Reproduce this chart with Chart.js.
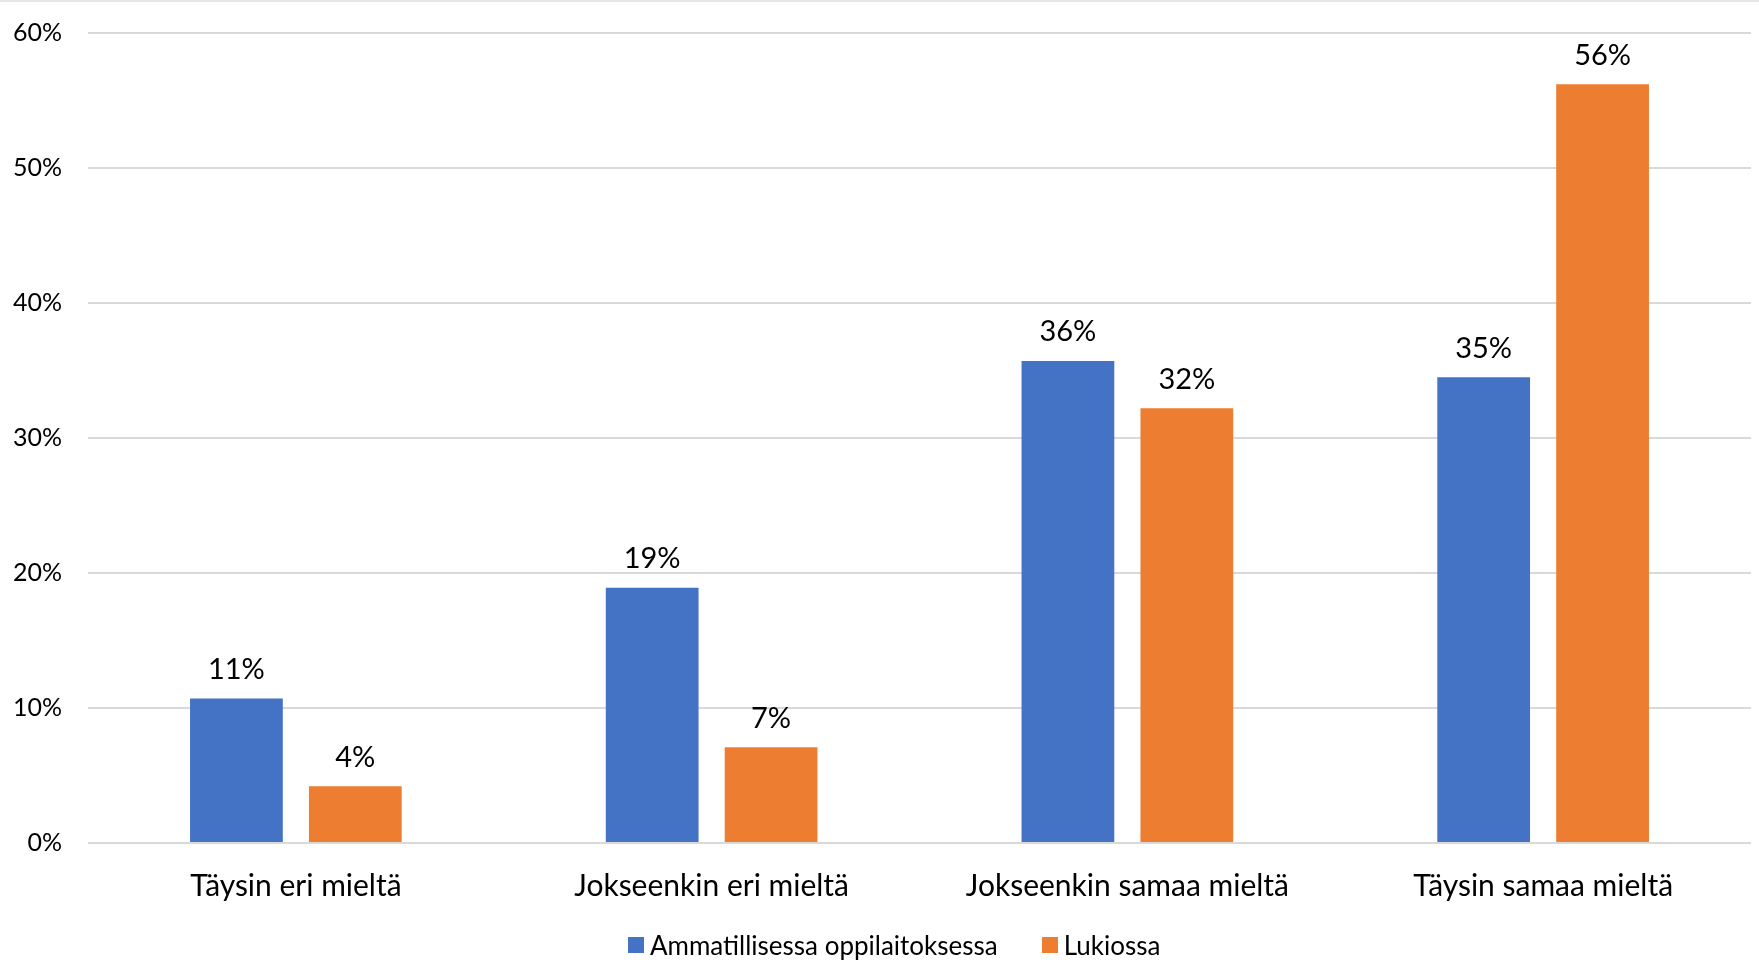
<!DOCTYPE html>
<html>
<head>
<meta charset="utf-8">
<script src="https://cdn.jsdelivr.net/npm/chart.js@4/dist/chart.umd.min.js"></script>
<style>
  body { margin: 0; background: #fff; }
  #wrap { position: relative; width: 1759px; height: 978px; font-family: Lato, "Open Sans", sans-serif; }
  #topline { position: absolute; left: 0; top: 0; width: 1759px; height: 2px; background: #e6e6e6; }
  #legend { position: absolute; left: 628px; top: 929px; display: flex; align-items: center; font-size: 26px; color: #000; line-height: 32px; }
  #legend span.item { display: flex; align-items: center; margin-right: 44px; }
  #legend span.box { width: 16px; height: 16px; margin-right: 6px; display: inline-block; }
</style>
</head>
<body>
<div id="wrap">
  <canvas id="myChart" width="1759" height="978"></canvas>
  <div id="topline"></div>
  <div id="legend"></div>
</div>
<script>
const categories = ['Täysin eri mieltä', 'Jokseenkin eri mieltä', 'Jokseenkin samaa mieltä', 'Täysin samaa mieltä'];
const ammatillinen = [10.7, 18.9, 35.7, 34.5];
const lukio = [4.2, 7.1, 32.2, 56.2];
const yTicks = [0, 10, 20, 30, 40, 50, 60];
const seriesNames = ['Ammatillisessa oppilaitoksessa', 'Lukiossa'];
const seriesColors = ['#4472C4', '#ED7D31'];

const FONT = 'Lato, "Open Sans", sans-serif';

// piirretään prosenttiluvut pylväiden päälle
const barLabels = {
    id: 'barLabels',
    afterDatasetsDraw(chart) {
        const ctx = chart.ctx;
        ctx.save();
        ctx.font = '29px ' + FONT;
        ctx.fillStyle = '#000';
        ctx.textAlign = 'center';
        ctx.textBaseline = 'middle';
        chart.data.datasets.forEach((ds, i) => {
            chart.getDatasetMeta(i).data.forEach((bar, j) => {
                ctx.fillText(Math.round(ds.data[j]) + '%', bar.x, bar.y - 29);
            });
        });
        ctx.restore();
    }
};

const chart = new Chart('myChart', {
    type: 'bar',
    data: {
        labels: categories,
        datasets: [
            { label: seriesNames[0], data: ammatillinen, backgroundColor: seriesColors[0] },
            { label: seriesNames[1], data: lukio, backgroundColor: seriesColors[1] }
        ]
    },
    options: {
        responsive: false,
        animation: false,
        categoryPercentage: 0.572,
        barPercentage: 0.78,
        layout: { padding: { top: 33, right: 8, bottom: 55, left: 0 } },
        plugins: {
            tooltip: { enabled: false },
            legend: { display: false }
        },
        scales: {
            x: {
                grid: { display: false },
                border: { display: false },
                ticks: { color: '#000', font: { family: FONT, size: 30 }, padding: 17, maxRotation: 0 },
                afterFit(s) { s.height = 80; }
            },
            y: {
                min: 0,
                max: 60,
                afterBuildTicks(s) { s.ticks = yTicks.map(v => ({ value: v })); },
                grid: { color: '#d9d9d9', lineWidth: 2, drawTicks: false },
                border: { display: false },
                ticks: {
                    color: '#000',
                    font: { family: FONT, size: 25 },
                    padding: 26,
                    callback: v => v + '%'
                },
                afterFit(s) {
                    s.width = 88;
                    s.paddingTop = 0;
                    s.paddingBottom = 0;
                }
            }
        }
    },
    plugins: [barLabels]
});

// selite HTML:nä
const legendEl = document.getElementById('legend');
chart.data.datasets.forEach(ds => {
    const item = document.createElement('span');
    item.className = 'item';
    const box = document.createElement('span');
    box.className = 'box';
    box.style.background = ds.backgroundColor;
    item.appendChild(box);
    item.appendChild(document.createTextNode(ds.label));
    legendEl.appendChild(item);
});
</script>
</body>
</html>
